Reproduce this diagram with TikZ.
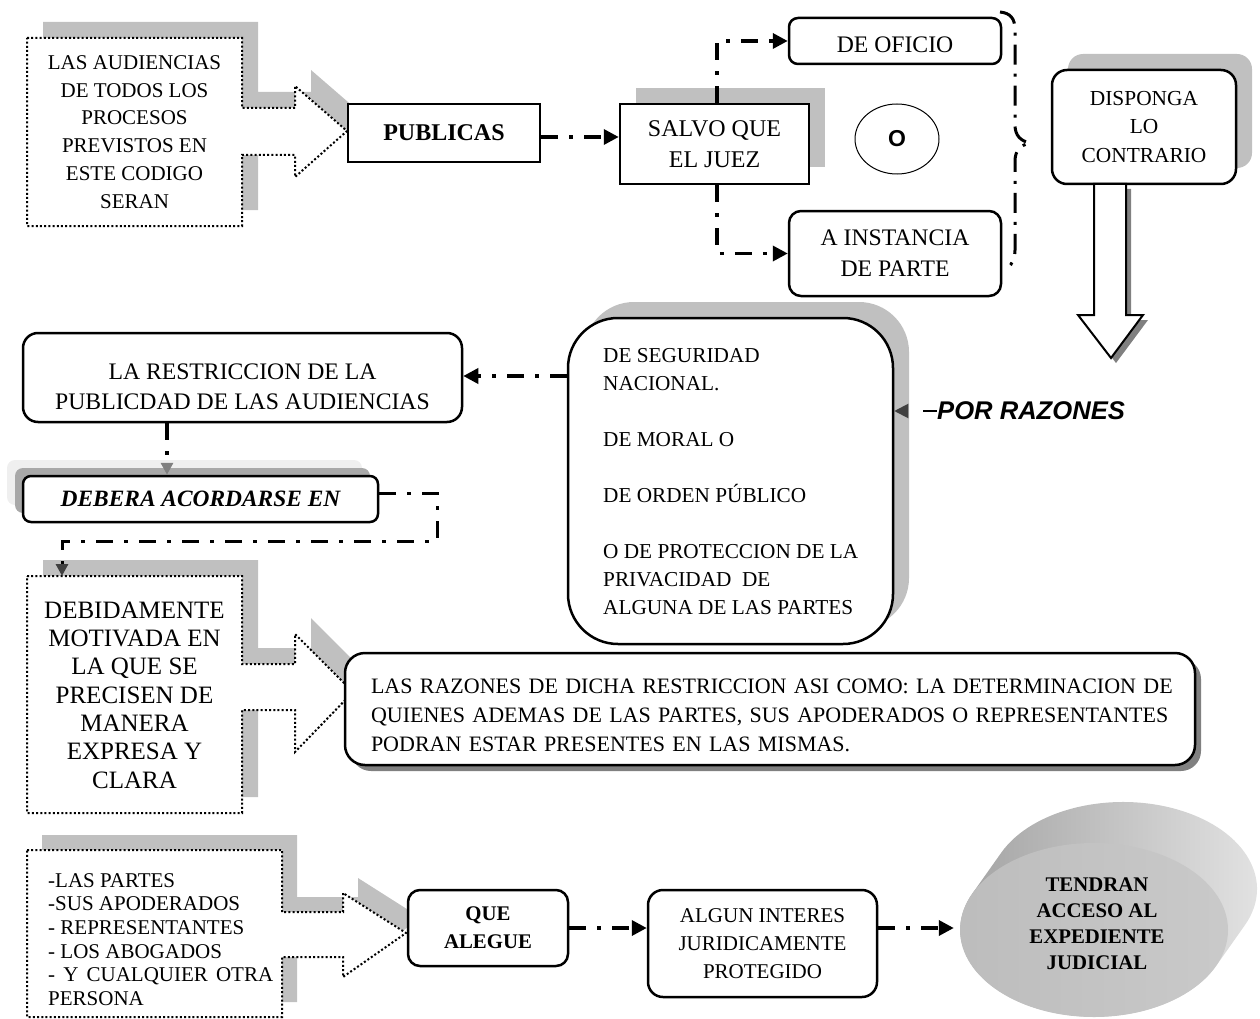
\documentclass[tikz,border=0pt]{standalone}
\usepackage{fontspec}
\setmainfont{Liberation Serif}
\newfontfamily\sansface{Liberation Sans}
\usetikzlibrary{arrows.meta,shapes.geometric,calc}

\definecolor{shadelight}{HTML}{C0C0C0}
\definecolor{shadedark}{HTML}{808080}
\definecolor{tipgray}{HTML}{808080}
\definecolor{tipdark}{HTML}{404040}
\definecolor{paleband}{HTML}{EFEFEF}
\definecolor{midband}{HTML}{A8A8A8}

\newcommand\setsz[2]{\fontsize{#1}{#2}\selectfont}

% outlines of the three dotted callouts
\def\calloutA{(27,38) -- (242,38) -- (242,108) -- (295,108) -- (295,86) -- (347,131) -- (295,177) -- (295,155) -- (242,155) -- (242,226) -- (27,226) -- cycle}
\def\calloutB{(27,576) -- (242,576) -- (242,664) -- (295,664) -- (295,634) -- (353,692) -- (295,752) -- (295,710) -- (242,710) -- (242,813) -- (27,813) -- cycle}
\def\calloutC{(27,850) -- (282,850) -- (282,912) -- (343,912) -- (343,893) -- (406,933) -- (343,977) -- (343,957) -- (282,957) -- (282,1017) -- (27,1017) -- cycle}
% hollow arrow below DISPONGA LO CONTRARIO
\def\downarrow{(1094,184) -- (1126,184) -- (1126,315) -- (1143,315) -- (1111,358) -- (1078,315) -- (1094,315) -- cycle}

\begin{document}
\begin{tikzpicture}[x=1pt,y=-1pt,
  plainbox/.style={draw,line width=2.5pt,fill=white,inner sep=0pt,align=center},
  roundbox/.style={draw,line width=2.5pt,fill=white,inner sep=0pt,align=center,rounded corners=#1},
  link/.style={line width=3.5pt,dash pattern=on 17pt off 11pt on 4pt off 11pt,
    -{Triangle[length=15pt,width=15pt]}},
  dotline/.style={line width=2pt,dash pattern=on 2pt off 2.2pt,fill=white},
  txt/.style={inner sep=0pt,align=center}]

\useasboundingbox (0,0) rectangle (1260,1019);

% ---------- shadows ----------
\fill[shadelight,shift={(16,-16)}] \calloutA;
\fill[shadelight,shift={(16,-16)}] \calloutB;
\fill[shadelight,shift={(15,-15)}] \calloutC;
\fill[shadelight] (636,88) rectangle (825,167);
\fill[shadelight,rounded corners=15pt] (1068,54) rectangle (1252,168);
\fill[shadelight,rounded corners=50pt] (584,302) rectangle (909,628);
\fill[shadedark,rounded corners=20pt] (351,659) rectangle (1201,771);
\fill[shadedark,shift={(5,5)}] \downarrow;
\fill[paleband,rounded corners=8pt] (7,460) rectangle (362,505);
\fill[midband,rounded corners=8pt] (15,468) rectangle (370,513);

% ---------- callouts ----------
\draw[dotline] \calloutA;
\node[txt,font=\setsz{21}{27.8}] (audiencias) at (134.5,132)
  {LAS AUDIENCIAS\\DE TODOS LOS\\PROCESOS\\PREVISTOS EN\\ESTE CODIGO\\SERAN};
\draw[dotline] \calloutB;
\coordinate (btop) at (62,576);
\node[txt,font=\setsz{25}{28.3}] (motivada) at (134.5,695)
  {DEBIDAMENTE\\MOTIVADA EN\\LA QUE SE\\PRECISEN DE\\MANERA\\EXPRESA Y\\CLARA};
\draw[dotline] \calloutC;
\node[inner sep=0pt,align=left,anchor=north west,font=\setsz{21}{23.7}] (personas) at (48,873)
  {-LAS PARTES\\-SUS APODERADOS\\- REPRESENTANTES\\- LOS ABOGADOS\\
   \makebox[225pt][s]{- Y CUALQUIER OTRA}\\PERSONA};

% ---------- top row ----------
\node[plainbox,minimum width=192pt,minimum height=58pt,font=\setsz{24}{30}\bfseries] (publicas) at (444,133) {PUBLICAS};
\node[plainbox,minimum width=189pt,minimum height=80pt,font=\setsz{24}{31}] (salvo) at (714.5,144) {SALVO QUE\\EL JUEZ};
\node[roundbox=9pt,minimum width=212pt,minimum height=46pt,font=\setsz{23.7}{31}] (oficio) at (895,41) {};
\node[txt,font=\setsz{23.7}{31}] (oficiotext) at (895,45) {DE OFICIO};
\node[roundbox=12pt,minimum width=212pt,minimum height=85pt,font=\setsz{23.7}{31}] (instancia) at (895,253.5) {A INSTANCIA\\DE PARTE};
\node[draw,ellipse,line width=1pt,minimum width=84pt,minimum height=70pt,inner sep=0pt,
  font=\sansface\bfseries\setsz{23}{26}] (o) at (897,139) {O};
\node[roundbox=15pt,minimum width=184pt,minimum height=114pt,font=\setsz{21.4}{28.7}] (disponga) at (1144,127) {DISPONGA\\LO\\CONTRARIO};

% dash-dot brace grouping the two options
\draw[line width=3pt,dash pattern=on 20pt off 9pt on 3pt off 9pt]
  (1000,12) .. controls (1010,13) and (1015,18) .. (1015,30) -- (1015,125)
  .. controls (1015,136) and (1021,141) .. (1030,143)
  .. controls (1021,145) and (1015,150) .. (1015,161) -- (1015,250)
  .. controls (1015,258) and (1012,264) .. (1008,268);

\draw[fill=white,line width=2pt] \downarrow;

% ---------- middle ----------
\node[roundbox=15pt,minimum width=439pt,minimum height=89pt] (restr) at (242.5,377.5) {};
\node[txt,font=\setsz{23.7}{30}] (restrtext) at (242.5,386.5) {LA RESTRICCION DE LA\\PUBLICDAD DE LAS AUDIENCIAS};
\node[roundbox=50pt,minimum width=325pt,minimum height=326pt] (razones) at (730.5,481) {};
\node[inner sep=0pt,align=left,anchor=north west,font=\setsz{21.25}{28}] (razonestext) at (603,348)
  {DE SEGURIDAD\\NACIONAL.\\[28pt]DE MORAL O\\[28pt]DE ORDEN PÚBLICO\\[28pt]O DE PROTECCION DE LA\\PRIVACIDAD~ DE\\ALGUNA DE LAS PARTES};
\node[inner sep=0pt,font=\sansface\bfseries\itshape\setsz{25.6}{30},anchor=west] (por) at (937,411) {POR RAZONES};
\node[roundbox=8pt,minimum width=355pt,minimum height=46pt,font=\setsz{23.4}{28}\bfseries\itshape] (debera) at (200.5,499) {DEBERA ACORDARSE EN};
\node[roundbox=20pt,minimum width=850pt,minimum height=112pt] (detalle) at (770,709) {};
\node[inner sep=0pt,align=left,text width=798pt,font=\setsz{22}{29}] (detalletext) at (770,715)
  {\makebox[798pt][s]{LAS RAZONES DE DICHA RESTRICCION ASI COMO: LA DETERMINACION DE}\\
   \makebox[798pt][s]{QUIENES ADEMAS DE LAS PARTES, SUS APODERADOS O REPRESENTANTES}\\
   PODRAN ESTAR PRESENTES EN LAS MISMAS.};

% ---------- bottom row ----------
\node[roundbox=12pt,minimum width=160pt,minimum height=76pt,font=\setsz{20.8}{28}\bfseries] (alegue) at (488,928) {QUE\\ALEGUE};
\node[roundbox=15pt,minimum width=229pt,minimum height=107pt,font=\setsz{21}{28.3}] (interes) at (762.5,943.5) {ALGUN INTERES\\JURIDICAMENTE\\PROTEGIDO};

% extruded disc holding the final statement
\shade[left color=gray!75,right color=gray!20]
  (1123,889) ++(204.7:134 and 87) arc[start angle=204.7,end angle=384.7,x radius=134,y radius=87]
  -- (1216,966) arc[start angle=24.7,end angle=204.7,x radius=134,y radius=87] -- cycle;
\node[ellipse,minimum width=268pt,minimum height=174pt,inner sep=0pt,
  left color=gray!52,right color=gray!42] (disc) at (1094,930) {};
\node[txt,font=\setsz{20.8}{26}\bfseries] (acceso) at (1097,924) {TENDRAN\\ACCESO AL\\EXPEDIENTE\\JUDICIAL};

% ---------- connectors ----------
\coordinate (xa) at (717,0);
\coordinate (xb) at (167,0);
\coordinate (xc) at (437,0);
\coordinate (yp) at (0,137);
\coordinate (ya) at (0,376);
\coordinate (yb) at (0,493);
\coordinate (yc) at (0,541);
\draw[link] (publicas.east |- yp) -- (salvo.west |- yp);
\draw[link] (xa |- salvo.north) |- (oficio.west);
\draw[link] (xa |- salvo.south) |- (instancia.west);
\draw[link] (razones.west |- ya) -- (restr.east |- ya);
\draw[line width=3.5pt,dash pattern=on 17pt off 11pt on 4pt off 11pt,
  -{Triangle[length=12pt,width=12pt,color=tipgray]}] (xb |- restr.south) -- (xb |- debera.north);
\draw[line width=3pt,dash pattern=on 17pt off 11pt on 4pt off 11pt,
  -{Triangle[length=12pt,width=12pt,color=tipdark]}]
  (debera.east |- yb) -| (xc |- yc) -| (btop);
\draw[line width=2pt,dash pattern=on 14pt off 40pt,
  -{Triangle[length=14pt,width=14pt,color=tipdark]}] (por.west) -- (razones.east |- por.west);
\draw[link] (alegue.east) -- (alegue.east -| interes.west);
\draw[link,shorten >=6pt] (interes.east |- alegue.east) -- (disc.west |- alegue.east);

\end{tikzpicture}
\end{document}
